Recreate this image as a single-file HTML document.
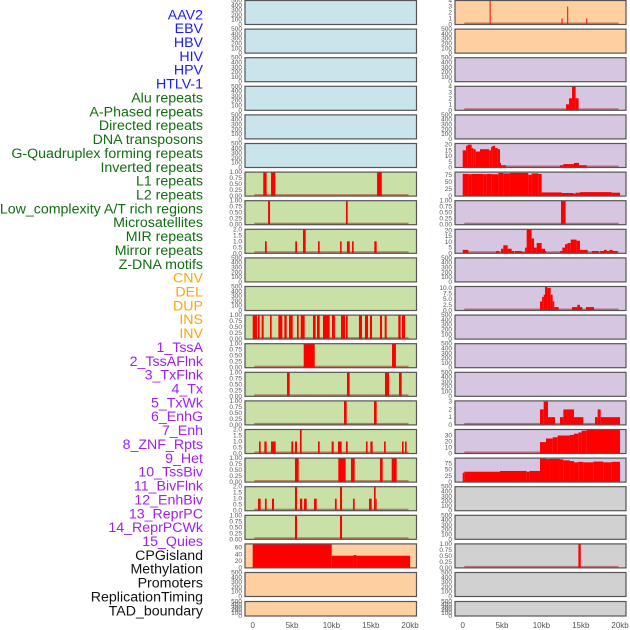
<!DOCTYPE html>
<html><head><meta charset="utf-8"><style>
html,body{margin:0;padding:0;background:#fff;}
svg{display:block;font-family:"Liberation Sans",sans-serif;}
</style></head><body>
<svg id="chart" width="630" height="630" viewBox="0 0 630 630" xmlns="http://www.w3.org/2000/svg"></svg>
<script>
const labelNames = ["AAV2","EBV","HBV","HIV","HPV","HTLV-1","Alu repeats","A-Phased repeats","Directed repeats","DNA transposons","G-Quadruplex forming repeats","Inverted repeats","L1 repeats","L2 repeats","Low_complexity A/T rich regions","Microsatellites","MIR repeats","Mirror repeats","Z-DNA motifs","CNV","DEL","DUP","INS","INV","1_TssA","2_TssAFlnk","3_TxFlnk","4_Tx","5_TxWk","6_EnhG","7_Enh","8_ZNF_Rpts","9_Het","10_TssBiv","11_BivFlnk","12_EnhBiv","13_ReprPC","14_ReprPCWk","15_Quies","CPGisland","Methylation","Promoters","ReplicationTiming","TAD_boundary"];
const labelGroups = [6,13,5,15,5];
const groupColors = ["#1a1aff","#106e10","#ffa500","#a020f0","#111111"];

const xTickKb = [0,5,10,15,20];
const xTickLabels = ["0","5kb","10kb","15kb","20kb"];

const E = ["0","100","200","300","400","500"];
const P1 = ["0.00","0.25","0.50","0.75","1.00"];
const P2 = ["0.0","0.5","1.0","1.5","2.0"];

const leftBg = ["b","b","b","b","b","b","g","g","g","g","g","g","g","g","g","g","g","g","g","o","o","o"];
const leftMax = [500,500,500,500,500,500,1,1,2,500,500,1,1,1,1,2,1,2,1,71,500,500];
const leftTicks = [E,E,E,E,E,E,P1,P1,P2,E,E,P1,P1,P1,P1,P2,P1,P2,P1,["0","20","40","60"],E,E];
const leftSegs = [[],[],[],[],[],[],
[[1.34,1.77,1],[2.33,2.88,1],[15.8,16.4,1]],
[[1.95,2.2,1],[11.85,12.07,1]],
[[1.56,1.78,1],[5.41,5.63,1],[6.39,6.73,2],[8.3,8.51,1],[11.1,11.3,1],[11.98,12.33,1],[12.62,12.83,1],[15.45,15.75,1]],
[],[],
[[0,0.55,1],[0.67,0.89,1],[1.14,1.39,1],[2.2,2.41,1],[3.26,3.77,1],[4.02,4.32,1],[4.61,5.08,1],[5.63,5.84,1],[6.1,6.6,1],[7.66,8.0,1],[8.17,8.51,1],[8.93,9.78,1],[10.07,10.45,1],[11.22,11.73,1],[11.85,12.07,1],[13.5,13.89,1],[14.27,14.65,1],[14.9,15.16,1],[16.17,16.43,1],[16.77,17.02,1],[18.5,18.8,1],[18.97,19.35,1]],
[[6.48,7.88,1],[17.7,18.2,1]],
[[4.36,4.7,1],[11.98,12.32,1],[16.81,17.32,1],[18.59,18.93,1]],
[[11.6,11.94,1],[15.41,15.75,1]],
[[0.8,1.01,1],[1.48,1.77,1],[2.33,2.92,1],[4.91,5.16,1],[5.37,5.63,1],[6.0,6.22,2],[8.3,8.51,1],[10.03,10.29,1],[10.84,11.3,1],[11.85,12.07,1],[14.39,14.6,1],[14.95,15.24,1],[16.69,16.9,1],[18.97,19.18,1],[19.35,19.56,1]],
[[5.37,5.84,1],[10.88,11.81,1],[12.49,12.96,1],[16.17,16.51,1],[17.66,18.29,1]],
[[0.67,1.01,1],[1.56,1.77,1],[2.45,2.71,1],[5.37,5.63,2],[6.0,6.3,1],[6.52,6.86,1],[7.79,8.13,1],[10.45,10.67,1],[11.09,11.35,2],[12.74,12.96,1],[14.78,15.12,1],[15.41,15.62,2],[15.62,15.75,1]],
[[5.37,5.63,1],[11.09,11.35,1]],
[[0,10.04,75],[10.04,12.8,36],[12.8,13.2,38],[13.2,20,36]],
[],[]];

const rightBg = ["o","o","p","p","p","p","p","p","p","p","p","p","p","p","p","p","p","y","y","y","y","y"];
const rightMax = [4,500,500,4,500,21,84.5,1,21,500,10.6,500,500,500,3.1,40,97,500,500,1,500,500];
const rightTicks = [["0","1","2","3","4"],E,E,["0","1","2","3","4"],E,["0","5","10","15","20"],["0","25","50","75"],P1,["0","5","10","15","20"],E,["0.0","2.5","5.0","7.5","10.0"],E,E,E,["0","1","2","3"],["0","10","20","30"],["0","25","50","75"],E,E,P1,E,E];
const rightSegs = [
[[3.42,3.54,4],[12.56,12.68,1],[13.28,13.4,3],[15.7,15.82,1]],
[],[],
[[13.13,13.51,1],[13.51,13.89,2],[13.89,14.35,4],[14.35,14.73,2]],
[],
[[0,0.42,15],[0.42,0.63,19],[0.63,1.14,20],[1.14,1.35,17],[1.35,1.65,16],[1.65,2.2,14],[2.2,3.38,16],[3.38,3.6,15],[3.6,3.77,18],[3.77,4.1,19],[4.1,4.44,17],[4.44,4.74,16],[4.74,4.87,4],[4.87,5.5,2],[12.36,12.79,2],[12.79,14.14,3],[14.14,14.78,4],[14.78,15.75,2]],
[[0,0.72,78],[0.72,1.14,77],[1.14,2.62,78],[2.62,3.05,77],[3.05,3.68,78],[3.68,4.53,77],[4.53,5.16,82],[5.16,6.0,80],[6.0,8.34,82],[8.34,8.76,75],[8.76,9.61,80],[9.61,10.03,78],[10.03,12.57,13],[12.57,14.06,11],[14.06,14.35,9],[14.35,14.9,12],[14.9,18.93,14],[18.93,19.99,12]],
[[12.49,13.08,1]],
[[0,0.72,3],[4.23,4.65,2],[4.87,5.16,4],[5.16,5.71,7],[5.71,6.22,4],[6.22,6.52,2],[6.64,7.49,2],[7.49,7.92,1],[7.92,8.13,5],[8.13,8.76,21],[8.76,9.06,13],[9.06,9.4,5],[9.4,10.03,9],[10.03,10.46,4],[10.46,10.58,2],[12.36,12.66,2],[12.66,13.0,5],[13.0,13.3,8],[13.3,13.72,9],[13.72,14.48,12],[14.48,14.9,11],[14.9,15.33,3],[15.33,15.88,3],[16.43,17.28,2],[17.45,17.95,2],[17.95,18.29,3],[18.29,18.63,2],[18.63,19.06,3],[19.06,19.69,2]],
[],
[[9.82,10.08,4],[10.08,10.29,6],[10.29,10.46,7],[10.46,10.75,10.5],[10.75,11.18,10],[11.18,11.43,7],[11.43,11.64,4],[11.64,12.19,1.5],[13.89,14.56,1.5],[14.56,14.9,2.5],[14.9,15.2,1.5],[15.67,16.69,1.5]],
[],[],[],
[[9.82,10.29,2],[10.29,10.84,3],[10.84,11.73,1],[12.36,12.79,1],[12.79,14.14,2],[14.14,15.33,1],[16.81,17.15,1],[17.15,17.53,2],[17.53,19.99,1]],
[[0,9.82,0.5],[9.82,10.58,19],[10.58,11.43,25],[11.43,12.07,27],[12.07,13.63,30],[13.63,14.14,31],[14.14,14.69,33],[14.69,15.11,35],[15.11,15.75,38],[15.75,19.99,40]],
[[0,0.21,38],[0.21,4.74,42],[4.74,8.13,45],[8.13,8.47,42],[8.47,9.82,45],[9.82,10.58,95],[10.58,11.09,93],[11.09,12.36,94],[12.36,12.79,92],[12.79,13.63,88],[13.63,14.14,85],[14.14,14.69,80],[14.69,15.33,82],[15.33,16.6,80],[16.6,17.87,83],[17.87,18.93,80],[18.93,19.99,82]],
[],[],
[[14.7,15.0,1]],
[],[]];

const NS = "http://www.w3.org/2000/svg";
const svg = document.getElementById("chart");
const bgColor = {b:"#c9e4eb", g:"#c9e1a6", o:"#fecf9f", p:"#d6c6e2", y:"#d1d1d1"};
function mk(tag, attrs, parent){const e=document.createElementNS(NS,tag);for(const k in attrs)e.setAttribute(k,attrs[k]);(parent||svg).appendChild(e);return e;}

let li=0;
labelGroups.forEach((n,g)=>{for(let k=0;k<n;k++){
  const t=mk("text",{x:203,y:(19.3+li*13.86).toFixed(1),"text-anchor":"end","font-size":"14.2",fill:groupColors[g]});
  t.textContent=labelNames[li];
  
  
  li++;}});

function rowTop(i){return i<21 ? 0.5+28.6*i : 601.5;}
function rowH(i){return i<21 ? 24 : 14.5;}

function drawColumn(px0, px1, x0, bgs, maxs, ticks, segs, side){
  const xs = kb => x0 + kb*7.87;
  for(let i=0;i<bgs.length;i++){
    const top=rowTop(i), h=rowH(i), bot=top+h;
    const g=mk("g",{});
    
    
    mk("rect",{x:px0,y:top,width:px1-px0,height:h,fill:bgColor[bgs[i]]},g);
    const ys = v => bot - Math.min(v,maxs[i])/maxs[i]*h;
    ticks[i].forEach(s=>{
      const v=parseFloat(s);
      const t=mk("text",{x:px0-3,y:(ys(v)+2).toFixed(1),"text-anchor":"end","font-size":"6.5",fill:"#555"},g);
      t.textContent=s;
      
      
    });
    if(segs[i].length){
      mk("rect",{x:xs(0.2),y:bot-2,width:xs(19.8)-xs(0.2),height:2,fill:"rgba(150,0,0,0.45)"},g);
    }
    segs[i].forEach(s=>{
      const r=mk("rect",{x:xs(s[0]).toFixed(2),y:ys(s[2]).toFixed(2),width:Math.max(1,xs(s[1])-xs(s[0])).toFixed(2),height:(bot-ys(s[2])).toFixed(2),fill:"#ff0000"},g);
      
      
    });
    mk("rect",{x:px0,y:top,width:px1-px0,height:h,fill:"none",stroke:"#555","stroke-width":"1.2"},g);
  }
  xTickKb.forEach((k,j)=>{
    const t=mk("text",{x:xs(k),y:628,"text-anchor":"middle","font-size":"8",fill:"#555"});
    t.textContent=xTickLabels[j];
    
    
  });
}
drawColumn(245,416.5,252.7,leftBg,leftMax,leftTicks,leftSegs,"left");
drawColumn(455,626,462.7,rightBg,rightMax,rightTicks,rightSegs,"right");
</script>
</body></html>
